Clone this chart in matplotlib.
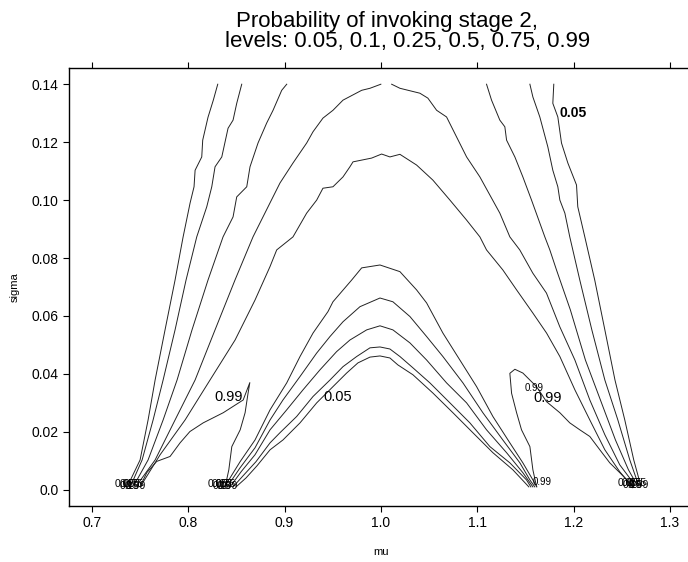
import numpy as np
import matplotlib
matplotlib.use("Agg")
from matplotlib import pyplot as plt

plt.rcParams['font.family'] = ['Liberation Sans', 'DejaVu Sans']

# contour levels of the probability surface
levels = [0.05, 0.1, 0.25, 0.5, 0.75, 0.99]

# traced contour pieces, (mu, sigma) points
# outer left fan
p05_left = [(0.8307, 0.1400), (0.8261, 0.1345), (0.8206, 0.1286), (0.8151, 0.1207), (0.8141, 0.1149),
            (0.8072, 0.1103), (0.8061, 0.1046), (0.8020, 0.0990), (0.7947, 0.0872), (0.7864, 0.0724),
            (0.7760, 0.0552), (0.7657, 0.0379), (0.7584, 0.0241), (0.7501, 0.0103), (0.7377, 0.0017)]
p10_left = [(0.8556, 0.1400), (0.8504, 0.1334), (0.8466, 0.1276), (0.8414, 0.1248), (0.8349, 0.1149),
            (0.8279, 0.1115), (0.8245, 0.1046), (0.8193, 0.0977), (0.8089, 0.0873), (0.7978, 0.0724),
            (0.7864, 0.0552), (0.7740, 0.0379), (0.7636, 0.0241), (0.7522, 0.0103), (0.7408, 0.0017)]
p25_left = [(0.9023, 0.1400), (0.8971, 0.1379), (0.8881, 0.1310), (0.8815, 0.1266), (0.8725, 0.1197),
            (0.8642, 0.1115), (0.8608, 0.1046), (0.8504, 0.1011), (0.8466, 0.0942), (0.8362, 0.0873),
            (0.8206, 0.0724), (0.8040, 0.0552), (0.7885, 0.0379), (0.7740, 0.0241), (0.7584, 0.0103),
            (0.7440, 0.0017)]
p50_left = [(1.0000, 0.1400), (0.9887, 0.1386), (0.9801, 0.1379), (0.9607, 0.1345), (0.9503, 0.1310),
            (0.9399, 0.1283), (0.9296, 0.1236), (0.9230, 0.1197), (0.9088, 0.1128), (0.8953, 0.1059),
            (0.8849, 0.0990), (0.8673, 0.0873), (0.8486, 0.0724), (0.8279, 0.0552), (0.8072, 0.0379),
            (0.7864, 0.0241), (0.7657, 0.0103), (0.7470, 0.0017)]
# outer right fan
p50_right = [(1.0112, 0.1400), (1.0198, 0.1386), (1.0405, 0.1369), (1.0488, 0.1352), (1.0579, 0.1310),
             (1.0682, 0.1287), (1.0786, 0.1218), (1.0890, 0.1149), (1.1028, 0.1080), (1.1235, 0.0955),
             (1.1339, 0.0873), (1.1442, 0.0828), (1.1577, 0.0748), (1.1719, 0.0679), (1.1857, 0.0563),
             (1.2014, 0.0448), (1.2169, 0.0310), (1.2325, 0.0190), (1.2480, 0.0086), (1.2636, 0.0017)]
p75_outer = [(0.7502, 0.0010), (0.7709, 0.0121), (0.7968, 0.0241), (0.8227, 0.0379), (0.8487, 0.0517),
             (0.8694, 0.0655), (0.8849, 0.0770), (0.8919, 0.0828), (0.9088, 0.0873), (0.9230, 0.0955),
             (0.9334, 0.1000), (0.9399, 0.1041), (0.9503, 0.1046), (0.9607, 0.1080), (0.9679, 0.1115),
             (0.9711, 0.1132), (0.9904, 0.1145), (1.0008, 0.1159), (1.0094, 0.1149), (1.0198, 0.1158),
             (1.0371, 0.1121), (1.0540, 0.1069), (1.0717, 0.1000), (1.0890, 0.0931), (1.1028, 0.0873),
             (1.1097, 0.0828), (1.1266, 0.0759), (1.1409, 0.0690), (1.1578, 0.0610), (1.1720, 0.0541),
             (1.1858, 0.0460), (1.2014, 0.0345), (1.2169, 0.0241), (1.2325, 0.0138), (1.2480, 0.0062),
             (1.2603, 0.0014)]
p25_right = [(1.1097, 0.1400), (1.1149, 0.1345), (1.1235, 0.1276), (1.1287, 0.1253), (1.1305, 0.1207),
             (1.1391, 0.1149), (1.1474, 0.1080), (1.1564, 0.1000), (1.1702, 0.0873), (1.1754, 0.0828),
             (1.1823, 0.0759), (1.1967, 0.0621), (1.2123, 0.0448), (1.2279, 0.0310), (1.2435, 0.0172),
             (1.2570, 0.0069), (1.2663, 0.0014)]
p10_right = [(1.1547, 0.1400), (1.1578, 0.1356), (1.1650, 0.1287), (1.1733, 0.1184), (1.1785, 0.1103),
             (1.1837, 0.1046), (1.1858, 0.1000), (1.1910, 0.0955), (1.1961, 0.0873), (1.2065, 0.0724),
             (1.2190, 0.0552), (1.2325, 0.0379), (1.2460, 0.0241), (1.2584, 0.0103), (1.2677, 0.0014)]
p05_right = [(1.1795, 0.1400), (1.1785, 0.1334), (1.1837, 0.1287), (1.1875, 0.1197), (1.1941, 0.1128),
             (1.2031, 0.1052), (1.2044, 0.0977), (1.2117, 0.0873), (1.2220, 0.0724), (1.2325, 0.0552),
             (1.2430, 0.0379), (1.2532, 0.0241), (1.2625, 0.0103), (1.2698, 0.0014)]

# inner arches around mu = 1
a75 = [(0.8372, 0.0010), (0.8435, 0.0041), (0.8539, 0.0097), (0.8694, 0.0172), (0.8850, 0.0276),
       (0.9023, 0.0369), (0.9161, 0.0460), (0.9296, 0.0541), (0.9451, 0.0615), (0.9503, 0.0649),
       (0.9697, 0.0724), (0.9801, 0.0766), (0.9991, 0.0776), (1.0198, 0.0753), (1.0371, 0.0690),
       (1.0475, 0.0645), (1.0644, 0.0541), (1.0820, 0.0448), (1.0994, 0.0356), (1.1163, 0.0253),
       (1.1339, 0.0162), (1.1474, 0.0093), (1.1578, 0.0034), (1.1619, 0.0010)]
a50 = [(0.8404, 0.0010), (0.8539, 0.0076), (0.8694, 0.0145), (0.8850, 0.0241), (0.8984, 0.0310),
       (0.9161, 0.0391), (0.9334, 0.0472), (0.9472, 0.0529), (0.9607, 0.0580), (0.9783, 0.0632),
       (0.9991, 0.0662), (1.0125, 0.0649), (1.0302, 0.0598), (1.0475, 0.0529), (1.0644, 0.0460),
       (1.0852, 0.0369), (1.1059, 0.0266), (1.1266, 0.0172), (1.1443, 0.0093), (1.1547, 0.0034),
       (1.1598, 0.0010)]
a25 = [(0.8435, 0.0010), (0.8549, 0.0062), (0.8694, 0.0121), (0.8850, 0.0207), (0.9023, 0.0276),
       (0.9192, 0.0345), (0.9368, 0.0414), (0.9541, 0.0477), (0.9679, 0.0517), (0.9853, 0.0552),
       (0.9991, 0.0566), (1.0125, 0.0552), (1.0302, 0.0507), (1.0475, 0.0448), (1.0682, 0.0369),
       (1.0890, 0.0300), (1.1097, 0.0207), (1.1305, 0.0128), (1.1474, 0.0059), (1.1578, 0.0010)]
a10 = [(0.8466, 0.0010), (0.8580, 0.0052), (0.8704, 0.0097), (0.8850, 0.0162), (0.8953, 0.0197),
       (0.9126, 0.0253), (0.9296, 0.0322), (0.9472, 0.0379), (0.9607, 0.0425), (0.9749, 0.0460),
       (0.9887, 0.0490), (0.9991, 0.0493), (1.0094, 0.0486), (1.0198, 0.0460), (1.0333, 0.0421),
       (1.0509, 0.0369), (1.0717, 0.0300), (1.0924, 0.0231), (1.1132, 0.0149), (1.1339, 0.0093),
       (1.1512, 0.0034), (1.1557, 0.0010)]
a05 = [(0.8497, 0.0010), (0.8601, 0.0041), (0.8715, 0.0083), (0.8850, 0.0138), (0.8984, 0.0172),
       (0.9161, 0.0231), (0.9334, 0.0300), (0.9503, 0.0356), (0.9645, 0.0403), (0.9762, 0.0438),
       (0.9887, 0.0458), (0.9991, 0.0462), (1.0094, 0.0455), (1.0177, 0.0431), (1.0333, 0.0397),
       (1.0540, 0.0334), (1.0748, 0.0266), (1.0955, 0.0197), (1.1163, 0.0128), (1.1370, 0.0069),
       (1.1536, 0.0010)]

# 0.99 pockets
p99_left = [(0.7501, 0.0011), (0.7570, 0.0059), (0.7674, 0.0098), (0.7812, 0.0115), (0.7916, 0.0162),
            (0.8018, 0.0201), (0.8156, 0.0231), (0.8364, 0.0266), (0.8571, 0.0310), (0.8640, 0.0370),
            (0.8620, 0.0330), (0.8591, 0.0266), (0.8540, 0.0207), (0.8453, 0.0149), (0.8422, 0.0069),
            (0.8384, 0.0011)]
p99_right = [(1.1616, 0.0011), (1.1578, 0.0069), (1.1547, 0.0149), (1.1460, 0.0207), (1.1409, 0.0266),
             (1.1357, 0.0333), (1.1339, 0.0402), (1.1391, 0.0416), (1.1474, 0.0403), (1.1616, 0.0356),
             (1.1720, 0.0304), (1.1858, 0.0266), (1.1961, 0.0231), (1.2065, 0.0207), (1.2169, 0.0184),
             (1.2273, 0.0138), (1.2376, 0.0093), (1.2480, 0.0059), (1.2584, 0.0024), (1.2615, 0.0007)]

pieces = [p05_left, p10_left, p25_left, p50_left, p50_right, p75_outer, p25_right, p10_right, p05_right,
          a75, a50, a25, a10, a05, p99_left, p99_right]

# contour labels: text, mu, sigma, size, weight
label_text = ['0.05', '0.99', '0.05', '0.99', '0.99', '0.99']
label_mu = [1.1993, 0.8415, 0.9555, 1.1733, 1.1587, 1.1670]
label_sigma = [0.1300, 0.0320, 0.0320, 0.0318, 0.0352, 0.0028]
label_size = [10, 10.5, 10.5, 10.5, 7, 7]
label_weight = ['bold', 'normal', 'normal', 'normal', 'normal', 'normal']

# crowded labels where the lines meet sigma = 0
cluster_mu = [0.740, 0.836, 1.262]
cluster_sigma = [0.0020, 0.0020, 0.0025]

fig = plt.figure(figsize=(6.88, 5.62), dpi=100)
ax = fig.add_axes([68.7 / 688, 56 / 562, 624.3 / 688, 438 / 562])

for pts in pieces:
    xy = np.array(pts)
    ax.plot(xy[:, 0], xy[:, 1], color='#222222', lw=0.7)

for t, x, y, s, w in zip(label_text, label_mu, label_sigma, label_size, label_weight):
    ax.text(x, y, t, fontsize=s, fontweight=w, ha='center', va='center', color='black')

for x, y in zip(cluster_mu, cluster_sigma):
    for i, lv in enumerate(levels):
        ax.text(x + (i - 2.5) * 0.0022, y - (i % 2) * 0.0008, str(lv), fontsize=7.5,
                ha='center', va='center', color='black')

ax.set_xlim(0.676, 1.324)
ax.set_ylim(-0.0056, 0.1456)
ax.set_xticks([0.7, 0.8, 0.9, 1.0, 1.1, 1.2, 1.3])
ax.set_xticklabels(['0.7', '0.8', '0.9', '1.0', '1.1', '1.2', '1.3'])
ax.set_yticks([0.0, 0.02, 0.04, 0.06, 0.08, 0.10, 0.12, 0.14])
ax.set_yticklabels(['0.0', '0.02', '0.04', '0.06', '0.08', '0.10', '0.12', '0.14'])
ax.tick_params(direction='out', length=4.5, width=0.8, labelsize=10, top=True, right=True, pad=3)
for sp in ax.spines.values():
    sp.set_linewidth(1.0)

ax.set_xlabel('mu', fontsize=8, labelpad=12)
ax.set_ylabel('sigma', fontsize=8, labelpad=8)

fig.text(387 / 688, 1 - 21 / 562, 'Probability of invoking stage 2,', ha='center', va='center',
         fontsize=16)
fig.text(408 / 688, 1 - 42 / 562, 'levels: 0.05, 0.1, 0.25, 0.5, 0.75, 0.99', ha='center', va='center',
         fontsize=16)

fig.savefig('out.png', dpi=100)
